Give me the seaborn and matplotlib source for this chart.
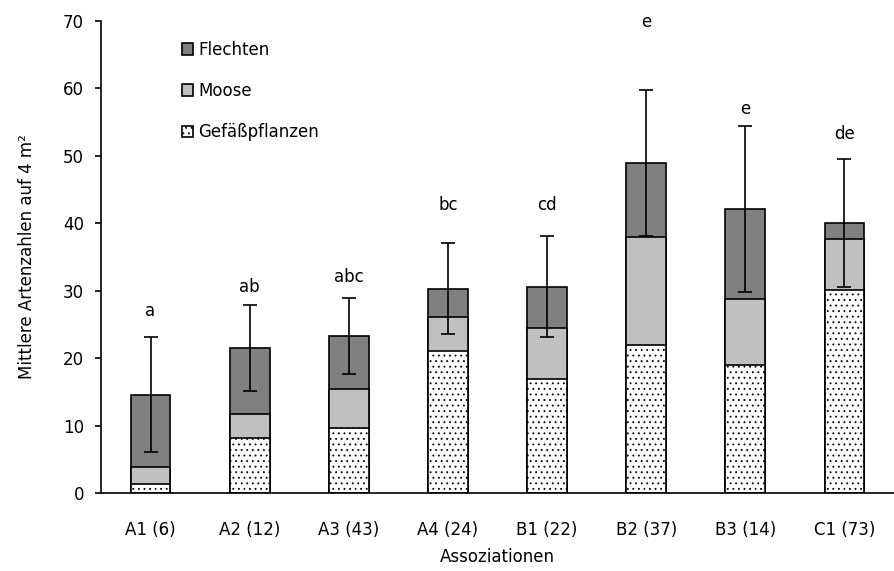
import matplotlib
matplotlib.use("Agg")
import matplotlib.pyplot as plt
import seaborn as sns
import numpy as np
import pandas as pd

categories = ["A1 (6)", "A2 (12)", "A3 (43)", "A4 (24)", "B1 (22)", "B2 (37)", "B3 (14)", "C1 (73)"]
gefaesspflanzen = [1.4, 8.1, 9.7, 21.0, 16.9, 21.9, 19.0, 30.1]
moose = [2.5, 3.6, 5.7, 5.1, 7.5, 16.0, 9.8, 7.5]
flechten = [10.7, 9.8, 7.9, 4.2, 6.2, 11.0, 13.3, 2.5]
sd_total = [8.5, 6.35, 5.65, 6.75, 7.45, 10.8, 12.35, 9.5]
letters = ["a", "ab", "abc", "bc", "cd", "e", "e", "de"]
letter_y = [27.0, 30.6, 32.1, 42.7, 42.7, 69.8, 57.0, 53.2]
yticks = [0, 10, 20, 30, 40, 50, 60, 70]

sns.set_theme(style="white")
plt.rcParams["font.family"] = ["DejaVu Sans"]
plt.rcParams["hatch.linewidth"] = 0.6
plt.rcParams["text.color"] = "black"
plt.rcParams["axes.labelcolor"] = "black"
plt.rcParams["xtick.color"] = "black"
plt.rcParams["ytick.color"] = "black"

g = np.array(gefaesspflanzen)
m = np.array(moose)
f = np.array(flechten)
df = pd.DataFrame({
    "cat": categories,
    "total": g + m + f,
    "gm": g + m,
    "g": g,
})

fig = plt.figure(figsize=(8.94, 5.71), dpi=100)
ax = fig.add_axes([101 / 894, 78 / 571, 1 - 101 / 894, 472 / 571])

bw = 0.4
sns.barplot(data=df, x="cat", y="total", color="#808080", width=bw, ax=ax,
            edgecolor="black", linewidth=1.2, saturation=1, label="Flechten")
sns.barplot(data=df, x="cat", y="gm", color="#c0c0c0", width=bw, ax=ax,
            edgecolor="black", linewidth=1.2, saturation=1, label="Moose")
sns.barplot(data=df, x="cat", y="g", color="white", width=bw, ax=ax,
            edgecolor="black", linewidth=1.2, saturation=1, hatch="...",
            label="Gefäßpflanzen")

x = np.arange(len(categories))
ax.errorbar(x, df["total"], yerr=sd_total, fmt="none", ecolor="black",
            elinewidth=1.2, capsize=5, capthick=1.2, zorder=5)

for xi, lt, ly in zip(x, letters, letter_y):
    ax.text(xi, ly, lt, ha="center", va="center", fontsize=12, color="black")

ax.set_xlim(-0.5, 7.43)
ax.set_ylim(0, 70)
ax.set_yticks(yticks)
ax.set_yticklabels([str(v) for v in yticks], fontsize=12)
ax.set_xticks(x)
ax.set_xticklabels(categories, fontsize=12)
ax.tick_params(axis="x", which="major", length=0, pad=20)
ax.set_xticks(np.arange(-0.5, 8.0, 1.0), minor=True)
ax.tick_params(axis="x", which="minor", length=4.3, width=1.2, direction="out", color="black")
ax.tick_params(axis="y", which="major", length=4.3, width=1.2, direction="out", color="black", left=True, pad=8)

for s in ["top", "right"]:
    ax.spines[s].set_visible(False)
for s in ["left", "bottom"]:
    ax.spines[s].set_color("black")
    ax.spines[s].set_linewidth(1.2)

ax.set_xlabel("Assoziationen", fontsize=12, labelpad=7)
ax.set_ylabel("Mittlere Artenzahlen auf 4 m²", fontsize=12, labelpad=19)

leg = ax.legend(loc="upper left", bbox_to_anchor=(0.083, 0.99), frameon=False,
                fontsize=12, handlelength=0.7, handleheight=0.7, handletextpad=0.3,
                labelspacing=1.4)

fig.savefig("out.png", dpi=100)
